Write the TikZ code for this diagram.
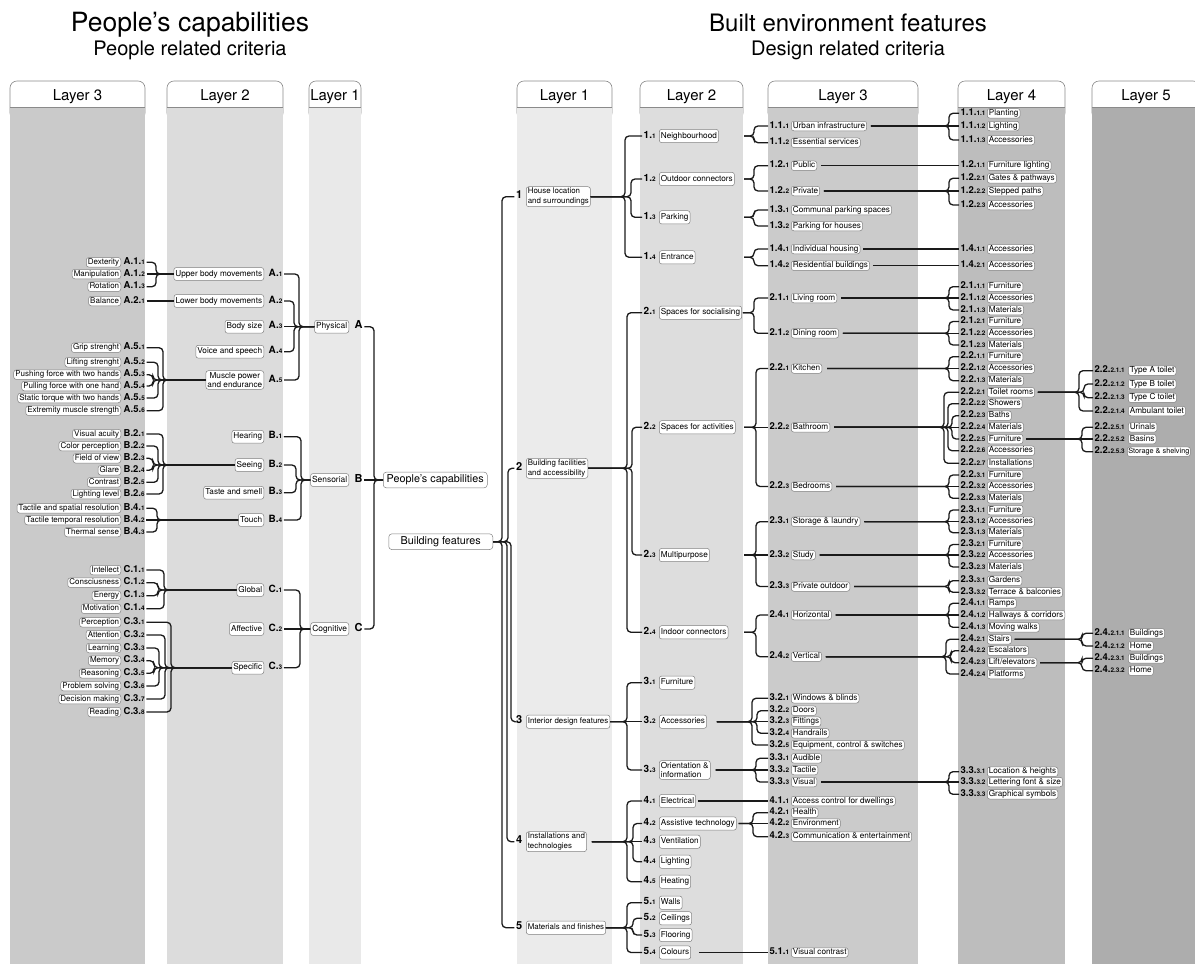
\documentclass[tikz,border=0pt]{standalone}
\usepackage{fontspec}
\setmainfont{TeX Gyre Heros}

\definecolor{linec}{HTML}{1A1A1A}
\definecolor{boxc}{HTML}{808080}
\definecolor{tabc}{HTML}{8A8A8A}
\definecolor{bandLa}{HTML}{CACACA}
\definecolor{bandLb}{HTML}{DCDCDC}
\definecolor{bandLc}{HTML}{E9E9E9}
\definecolor{bandRa}{HTML}{EBEBEB}
\definecolor{bandRb}{HTML}{DDDDDD}
\definecolor{bandRc}{HTML}{CBCBCB}
\definecolor{bandRd}{HTML}{BDBDBD}
\definecolor{bandRe}{HTML}{ADADAD}

% code label: big part, then small part
\newcommand\cod[2]{#1{\fontsize{6.4}{7}\selectfont#2}}
% left item: code right of its box / right item: code left of its box
\newcommand\lit[4]{%
  \node[codetag, anchor=west] (c#1) at (\colc,#2) {#3};
  \node[critbox, anchor=east] (#1) at (\colb,#2) {#4};}
\newcommand\rit[4]{%
  \node[codetag, anchor=west] (c#1) at (\colc,#2) {#3};
  \node[critbox, anchor=west] (#1) at (\colb,#2) {#4};}
% braces: children on the left / on the right
\newcommand\lbr[2]{\foreach \kid/\spx in {#2}
  {\draw[conn] (c\kid.east) -| (\spx,0 |- #1.west) -- (#1.west);}}
\newcommand\lst[2]{\draw[conn] (c#2.east) -- (#1.west);}
\newcommand\rbr[3]{\foreach \kid/\spx in {#3}
  {\draw[conn] (#2) -- (\spx,0 |- #1.east) |- (c\kid.west);}}
\newcommand\rst[3]{\draw[conn] (#2) -- (c#3.west);}
% column band with its tab
\newcommand\band[5]{%
  \draw[tabline, fill=white, rounded corners=7pt] (#1,81) rectangle (#2,120);
  \fill[#3] (#1,107) rectangle (#2,964);
  \draw[tabline] (#1,107) -- (#2,107);
  \node[tabtext, anchor=base] (#5) at ({(#1+#2)/2},100) {#4};}

\begin{document}
\begin{tikzpicture}[x=1pt, y=-1pt,
  conn/.style={draw=linec, line width=1.3pt, rounded corners=4pt},
  critbox/.style={draw=boxc, fill=white, line width=0.5pt, rounded corners=2.5pt,
    inner xsep=1.6pt, inner ysep=0.9pt, text height=6pt, text depth=1.7pt,
    font=\fontsize{8.2}{9}\selectfont},
  box2/.style={draw=boxc, fill=white, line width=0.5pt, rounded corners=2.5pt,
    inner xsep=1.6pt, inner ysep=1.5pt, align=left, font=\fontsize{7.9}{9.5}\selectfont},
  codetag/.style={inner xsep=1.5pt, inner ysep=0pt, text height=6pt, text depth=1.7pt,
    font=\bfseries\fontsize{9.5}{10}\selectfont},
  bigbox/.style={draw=boxc, fill=white, line width=0.5pt, rounded corners=3pt,
    minimum width=104pt, inner ysep=2.8pt, text height=7.8pt, text depth=2.2pt,
    font=\fontsize{10.8}{12}\selectfont},
  tabline/.style={draw=tabc, line width=0.6pt},
  tabtext/.style={font=\fontsize{15}{16}\selectfont},
  ttl/.style={anchor=base, font=\fontsize{25}{28}\selectfont},
  subttl/.style={anchor=base, font=\fontsize{20}{22}\selectfont}]
\useasboundingbox (0,0) rectangle (1195,964);
\clip (0,0) rectangle (1195,964);

% titles
\node[ttl, font=\fontsize{26.5}{28}\selectfont] (ttlP) at (190,31) {People’s capabilities};
\node[subttl] (subP) at (190,55) {People related criteria};
\node[ttl, font=\fontsize{24}{28}\selectfont] (ttlB) at (848,31) {Built environment features};
\node[subttl] (subB) at (848,55) {Design related criteria};

% columns
\band{10}{145}{bandLa}{Layer 3}{tabL3}
\band{167}{283}{bandLb}{Layer 2}{tabL2}
\band{309}{361}{bandLc}{Layer 1}{tabL1}
\band{517}{612}{bandRa}{Layer 1}{tabR1}
\band{640}{743}{bandRb}{Layer 2}{tabR2}
\band{768}{918}{bandRc}{Layer 3}{tabR3}
\band{958}{1065}{bandRd}{Layer 4}{tabR4}
\band{1092}{1200}{bandRe}{Layer 5}{tabR5}

% ---- people related criteria ----
\begin{scope}[critbox/.append style={font=\fontsize{8}{9}\selectfont}]
\def\colc{122}\def\colb{121}
\lit{a11}{262.3}{\cod{A.1.}{1}}{Dexterity}
\lit{a12}{274}{\cod{A.1.}{2}}{Manipulation}
\lit{a13}{286.7}{\cod{A.1.}{3}}{Rotation}
\lit{a21}{301}{\cod{A.2.}{1}}{Balance}
\lit{a51}{347.7}{\cod{A.5.}{1}}{Grip strenght}
\lit{a52}{362.3}{\cod{A.5.}{2}}{Lifting strenght}
\lit{a53}{374.7}{\cod{A.5.}{3}}{Pushing force with two hands}
\lit{a54}{386}{\cod{A.5.}{4}}{Pulling force with one hand}
\lit{a55}{398}{\cod{A.5.}{5}}{Static torque with two hands}
\lit{a56}{410.7}{\cod{A.5.}{6}}{Extremity muscle strength}
\lit{b21}{434}{\cod{B.2.}{1}}{Visual acuity}
\lit{b22}{446}{\cod{B.2.}{2}}{Color perception}
\lit{b23}{458.3}{\cod{B.2.}{3}}{Field of view}
\lit{b24}{470.3}{\cod{B.2.}{4}}{Glare}
\lit{b25}{482.3}{\cod{B.2.}{5}}{Contrast}
\lit{b26}{494}{\cod{B.2.}{6}}{Lighting level}
\lit{b41}{508.3}{\cod{B.4.}{1}}{Tactile and spatial resolution}
\lit{b42}{520}{\cod{B.4.}{2}}{Tactile temporal resolution}
\lit{b43}{532}{\cod{B.4.}{3}}{Thermal sense}
\lit{c11}{570}{\cod{C.1.}{1}}{Intellect}
\lit{c12}{582.7}{\cod{C.1.}{2}}{Consciusness}
\lit{c13}{595.7}{\cod{C.1.}{3}}{Energy}
\lit{c14}{608.7}{\cod{C.1.}{4}}{Motivation}
\lit{c31}{622.3}{\cod{C.3.}{1}}{Perception}
\lit{c32}{635}{\cod{C.3.}{2}}{Attention}
\lit{c33}{648}{\cod{C.3.}{3}}{Learning}
\lit{c34}{660.7}{\cod{C.3.}{4}}{Memory}
\lit{c35}{673.3}{\cod{C.3.}{5}}{Reasoning}
\lit{c36}{686}{\cod{C.3.}{6}}{Problem solving}
\lit{c37}{699}{\cod{C.3.}{7}}{Decision making}
\lit{c38}{712}{\cod{C.3.}{8}}{Reading}
\end{scope}

\begin{scope}[critbox/.append style={inner ysep=2.6pt},
  codetag/.append style={font=\bfseries\fontsize{10}{11}\selectfont}]
\def\colc{267}\def\colb{264}
\lit{a1}{274}{\cod{A.}{1}}{Upper body movements}
\lit{a2}{301}{\cod{A.}{2}}{Lower body movements}
\lit{a3}{326.7}{\cod{A.}{3}}{Body size}
\lit{a4}{351.7}{\cod{A.}{4}}{Voice and speech}
\node[codetag, anchor=west] (ca5) at (267,380) {\cod{A.}{5}};
\node[box2, anchor=east, align=center, font=\fontsize{8.2}{9.5}\selectfont] (a5) at (264,380) {Muscle power\\and endurance};
\lit{b1}{436.7}{\cod{B.}{1}}{Hearing}
\lit{b2}{465}{\cod{B.}{2}}{Seeing}
\lit{b3}{492.7}{\cod{B.}{3}}{Taste and smell}
\lit{b4}{520}{\cod{B.}{4}}{Touch}
\lit{c1}{590}{\cod{C.}{1}}{Global}
\lit{c2}{629}{\cod{C.}{2}}{Affective}
\lit{c3}{667.7}{\cod{C.}{3}}{Specific}
\end{scope}

\begin{scope}[critbox/.append style={inner ysep=2.6pt, font=\fontsize{8.4}{9}\selectfont},
  codetag/.append style={font=\bfseries\fontsize{11}{12}\selectfont}]
\def\colc{353}\def\colb{349}
\lit{a}{326.7}{A}{Physical}
\lit{b}{480}{B}{Sensorial}
\lit{c}{629}{C}{Cognitive}
\end{scope}

\node[bigbox, anchor=west] (people) at (383,480) {People’s capabilities};
\node[bigbox, anchor=east] (building) at (493,541.7) {Building features};

% ---- design related criteria ----
\begin{scope}[codetag/.append style={font=\bfseries\fontsize{11}{12}\selectfont}]
\node[codetag, anchor=east] (cn1) at (524,196.7) {1};
\node[box2, anchor=west] (n1) at (526,196.7) {House location\\and surroundings};
\node[codetag, anchor=east] (cn2) at (524,468.3) {2};
\node[box2, anchor=west] (n2) at (526,468.3) {Building facilities\\and accessibility};
\node[codetag, anchor=east] (cn3) at (524,721.7) {3};
\node[critbox, anchor=west, inner ysep=2.8pt, font=\fontsize{7.9}{9}\selectfont] (n3) at (526,721.7) {Interior design features};
\node[codetag, anchor=east] (cn4) at (524,841.7) {4};
\node[box2, anchor=west] (n4) at (526,841.7) {Installations and\\technologies};
\node[codetag, anchor=east] (cn5) at (524,927.7) {5};
\node[critbox, anchor=west, inner ysep=2.8pt, font=\fontsize{7.9}{9}\selectfont] (n5) at (526,927.7) {Materials and finishes};
\end{scope}

\begin{scope}[critbox/.append style={inner ysep=2.8pt},
  codetag/.append style={font=\bfseries\fontsize{10}{11}\selectfont}]
\def\colc{642}\def\colb{659}
\rit{n11}{136}{\cod{1.}{1}}{Neighbourhood}
\rit{n12}{179}{\cod{1.}{2}}{Outdoor connectors}
\rit{n13}{217.3}{\cod{1.}{3}}{Parking}
\rit{n14}{257.3}{\cod{1.}{4}}{Entrance}
\rit{n21}{312.7}{\cod{2.}{1}}{Spaces for socialising}
\rit{n22}{427.3}{\cod{2.}{2}}{Spaces for activities}
\rit{n23}{555}{\cod{2.}{3}}{Multipurpose}
\rit{n24}{632.3}{\cod{2.}{4}}{Indoor connectors}
\rit{n31}{682.7}{\cod{3.}{1}}{Furniture}
\rit{n32}{721.7}{\cod{3.}{2}}{Accessories}
\node[codetag, anchor=west] (cn33) at (642,770) {\cod{3.}{3}};
\node[box2, anchor=west, font=\fontsize{8.2}{9.5}\selectfont] (n33) at (659,770) {Orientation \&\\information};
\rit{n41}{801}{\cod{4.}{1}}{Electrical}
\rit{n42}{823.5}{\cod{4.}{2}}{Assistive technology}
\rit{n43}{841.7}{\cod{4.}{3}}{Ventilation}
\rit{n44}{861.7}{\cod{4.}{4}}{Lighting}
\rit{n45}{881.7}{\cod{4.}{5}}{Heating}
\rit{n51}{902.7}{\cod{5.}{1}}{Walls}
\rit{n52}{918.3}{\cod{5.}{2}}{Ceilings}
\rit{n53}{935}{\cod{5.}{3}}{Flooring}
\rit{n54}{952.5}{\cod{5.}{4}}{Colours}
\end{scope}

\begin{scope}
\def\colc{768}\def\colb{791}
\rit{n111}{126}{\cod{1.1.}{1}}{Urban infrastructure}
\rit{n112}{142.7}{\cod{1.1.}{2}}{Essential services}
\rit{n121}{165.7}{\cod{1.2.}{1}}{Public}
\rit{n122}{191}{\cod{1.2.}{2}}{Private}
\rit{n131}{210}{\cod{1.3.}{1}}{Communal parking spaces}
\rit{n132}{226}{\cod{1.3.}{2}}{Parking for houses}
\rit{n141}{249}{\cod{1.4.}{1}}{Individual housing}
\rit{n142}{265.7}{\cod{1.4.}{2}}{Residential buildings}
\rit{n211}{298}{\cod{2.1.}{1}}{Living room}
\rit{n212}{333.3}{\cod{2.1.}{2}}{Dining room}
\rit{n221}{368.5}{\cod{2.2.}{1}}{Kitchen}
\rit{n222}{427.3}{\cod{2.2.}{2}}{Bathroom}
\rit{n223}{486.5}{\cod{2.2.}{3}}{Bedrooms}
\rit{n231}{521.7}{\cod{2.3.}{1}}{Storage \& laundry}
\rit{n232}{555}{\cod{2.3.}{2}}{Study}
\rit{n233}{586.5}{\cod{2.3.}{3}}{Private outdoor}
\rit{n241}{615}{\cod{2.4.}{1}}{Horizontal}
\rit{n242}{656.7}{\cod{2.4.}{2}}{Vertical}
\rit{n321}{698.3}{\cod{3.2.}{1}}{Windows \& blinds}
\rit{n322}{710.7}{\cod{3.2.}{2}}{Doors}
\rit{n323}{721.7}{\cod{3.2.}{3}}{Fittings}
\rit{n324}{733.3}{\cod{3.2.}{4}}{Handrails}
\rit{n325}{745}{\cod{3.2.}{5}}{Equipment, control \& switches}
\rit{n331}{758.3}{\cod{3.3.}{1}}{Audible}
\rit{n332}{770}{\cod{3.3.}{2}}{Tactile}
\rit{n333}{782}{\cod{3.3.}{3}}{Visual}
\rit{n411}{801}{\cod{4.1.}{1}}{Access control for dwellings}
\rit{n421}{812.7}{\cod{4.2.}{1}}{Health}
\rit{n422}{823.5}{\cod{4.2.}{2}}{Environment}
\rit{n423}{836.7}{\cod{4.2.}{3}}{Communication \& entertainment}
\rit{n541}{952.5}{\cod{5.1.}{1}}{Visual contrast}
\end{scope}

\begin{scope}
\def\colc{959}\def\colb{987}
\rit{n1111}{113.3}{\cod{1.1.}{1.1}}{Planting}
\rit{n1112}{126}{\cod{1.1.}{1.2}}{Lighting}
\rit{n1113}{140}{\cod{1.1.}{1.3}}{Accessories}
\rit{n1211}{165.7}{\cod{1.2.}{1.1}}{Furniture lighting}
\rit{n1221}{178.3}{\cod{1.2.}{2.1}}{Gates \& pathways}
\rit{n1222}{191}{\cod{1.2.}{2.2}}{Stepped paths}
\rit{n1223}{205}{\cod{1.2.}{2.3}}{Accessories}
\rit{n1411}{249}{\cod{1.4.}{1.1}}{Accessories}
\rit{n1421}{265.7}{\cod{1.4.}{2.1}}{Accessories}
\rit{n2111}{286.7}{\cod{2.1.}{1.1}}{Furniture}
\rit{n2112}{298}{\cod{2.1.}{1.2}}{Accessories}
\rit{n2113}{310}{\cod{2.1.}{1.3}}{Materials}
\rit{n2121}{321.5}{\cod{2.1.}{2.1}}{Furniture}
\rit{n2122}{333.3}{\cod{2.1.}{2.2}}{Accessories}
\rit{n2123}{345}{\cod{2.1.}{2.3}}{Materials}
\rit{n2211}{356.7}{\cod{2.2.}{1.1}}{Furniture}
\rit{n2212}{368.5}{\cod{2.2.}{1.2}}{Accessories}
\rit{n2213}{380.7}{\cod{2.2.}{1.3}}{Materials}
\rit{n2221}{392.3}{\cod{2.2.}{2.1}}{Toilet rooms}
\rit{n2222}{403.7}{\cod{2.2.}{2.2}}{Showers}
\rit{n2223}{415.7}{\cod{2.2.}{2.3}}{Baths}
\rit{n2224}{427.3}{\cod{2.2.}{2.4}}{Materials}
\rit{n2225}{439}{\cod{2.2.}{2.5}}{Furniture}
\rit{n2226}{450.7}{\cod{2.2.}{2.6}}{Accessories}
\rit{n2227}{463.3}{\cod{2.2.}{2.7}}{Installations}
\rit{n2231}{475}{\cod{2.2.}{3.1}}{Furniture}
\rit{n2232}{486.5}{\cod{2.2.}{3.2}}{Accessories}
\rit{n2233}{498.3}{\cod{2.2.}{3.3}}{Materials}
\rit{n2311}{510}{\cod{2.3.}{1.1}}{Furniture}
\rit{n2312}{521.7}{\cod{2.3.}{1.2}}{Accessories}
\rit{n2313}{532.7}{\cod{2.3.}{1.3}}{Materials}
\rit{n2321}{544.5}{\cod{2.3.}{2.1}}{Furniture}
\rit{n2322}{555}{\cod{2.3.}{2.2}}{Accessories}
\rit{n2323}{567}{\cod{2.3.}{2.3}}{Materials}
\rit{n2331}{580.7}{\cod{2.3.}{3.1}}{Gardens}
\rit{n2332}{592.3}{\cod{2.3.}{3.2}}{Terrace \& balconies}
\rit{n2411}{603.3}{\cod{2.4.}{1.1}}{Ramps}
\rit{n2412}{615}{\cod{2.4.}{1.2}}{Hallways \& corridors}
\rit{n2413}{627.3}{\cod{2.4.}{1.3}}{Moving walks}
\rit{n2421}{639.3}{\cod{2.4.}{2.1}}{Stairs}
\rit{n2422}{650.7}{\cod{2.4.}{2.2}}{Escalators}
\rit{n2423}{662.7}{\cod{2.4.}{2.3}}{Lift/elevators}
\rit{n2424}{674}{\cod{2.4.}{2.4}}{Platforms}
\rit{n3331}{771.7}{\cod{3.3.}{3.1}}{Location \& heights}
\rit{n3332}{782}{\cod{3.3.}{3.2}}{Lettering font \& size}
\rit{n3333}{794.3}{\cod{3.3.}{3.3}}{Graphical symbols}
\end{scope}

\begin{scope}
\def\colc{1093}\def\colb{1128}
\rit{n22211}{370.7}{\cod{2.2.}{2.1.1}}{Type A toilet}
\rit{n22212}{384}{\cod{2.2.}{2.1.2}}{Type B toilet}
\rit{n22213}{397.7}{\cod{2.2.}{2.1.3}}{Type C toilet}
\rit{n22214}{411}{\cod{2.2.}{2.1.4}}{Ambulant toilet}
\rit{n22251}{427.3}{\cod{2.2.}{2.5.1}}{Urinals}
\rit{n22252}{439}{\cod{2.2.}{2.5.2}}{Basins}
\node[codetag, anchor=west] (cn22253) at (1093,451.7) {\cod{2.2.}{2.5.3}};
\node[critbox, anchor=west, inner xsep=1pt, font=\fontsize{7.3}{9}\selectfont] (n22253) at (1127,451.7) {Storage \& shelving};
\rit{n24211}{633.3}{\cod{2.4.}{2.1.1}}{Buildings}
\rit{n24212}{646}{\cod{2.4.}{2.1.2}}{Home}
\rit{n24231}{658.3}{\cod{2.4.}{2.3.1}}{Buildings}
\rit{n24232}{670.7}{\cod{2.4.}{2.3.2}}{Home}
\end{scope}

% ---- braces, left side ----
\lbr{a1}{a11/156, a13/156} \lst{a1}{a12}
\lst{a2}{a21}
\lbr{a5}{a51/163, a52/158, a53/153, a54/153, a55/158, a56/163}
\lbr{b2}{b21/163, b22/158, b23/153, b24/153, b25/158, b26/163}
\lbr{b4}{b41/157, b43/157} \lst{b4}{b42}
\lbr{c1}{c11/164, c12/158, c13/158, c14/164}
\lbr{c3}{c31/171, c32/165, c33/159, c34/154, c35/154, c36/159, c37/165, c38/171}
\lbr{a}{a1/299, a2/294, a4/294, a5/299} \lst{a}{a3}
\lbr{b}{b1/301, b2/296, b3/296, b4/301}
\lbr{c}{c1/300, c3/300} \lst{c}{c2}
\lbr{people}{a/374, c/374} \lst{people}{b}

% ---- braces, right side ----
\rbr{building}{building.east}{n1/502, n2/508, n3/511, n4/507, n5/502}
\rbr{n1}{n1.east}{n11/625, n12/631, n13/631, n14/625}
\rbr{n2}{n2.east}{n21/627, n22/632, n23/632, n24/627}
\rbr{n3}{n3.east}{n31/627, n33/627} \rst{n3}{n3.east}{n32}
\rbr{n4}{[xshift=5pt]n4.east}{n41/627, n42/633, n44/633, n45/627} \rst{n4}{[xshift=5pt]n4.east}{n43}
\rbr{n5}{n5.east}{n51/627, n52/633, n53/633, n54/627}

\rbr{n11}{744,0 |- n11.east}{n111/754, n112/754}
\rbr{n12}{744,0 |- n12.east}{n121/754, n122/754}
\rbr{n13}{744,0 |- n13.east}{n131/754, n132/754}
\rbr{n14}{744,0 |- n14.east}{n141/754, n142/754}
\rbr{n21}{[xshift=1pt]n21.east}{n211/754, n212/754}
\rbr{n22}{744,0 |- n22.east}{n221/756, n223/756} \rst{n22}{744,0 |- n22.east}{n222}
\rbr{n23}{744,0 |- n23.east}{n231/756, n233/756} \rst{n23}{744,0 |- n23.east}{n232}
\rbr{n24}{744,0 |- n24.east}{n241/756, n242/756}
\rbr{n32}{[xshift=10pt]n32.east}{n321/752, n322/757, n324/757, n325/752} \rst{n32}{[xshift=10pt]n32.east}{n323}
\rbr{n33}{[xshift=5pt]n33.east}{n331/756, n333/756} \rst{n33}{[xshift=5pt]n33.east}{n332}
\rst{n41}{[xshift=2pt]n41.east}{n411}
\rbr{n42}{[xshift=2pt]n42.east}{n421/753, n423/753} \rst{n42}{[xshift=2pt]n42.east}{n422}
\rst{n54}{[xshift=8pt]n54.east}{n541}

\rbr{n111}{[xshift=4pt]n111.east}{n1111/949, n1113/949} \rst{n111}{[xshift=4pt]n111.east}{n1112}
\rst{n121}{[xshift=4pt]n121.east}{n1211}
\rbr{n122}{[xshift=4pt]n122.east}{n1221/949, n1223/949} \rst{n122}{[xshift=4pt]n122.east}{n1222}
\rst{n141}{[xshift=3pt]n141.east}{n1411}
\rst{n142}{[xshift=3pt]n142.east}{n1421}
\rbr{n211}{[xshift=4pt]n211.east}{n2111/949, n2113/949} \rst{n211}{[xshift=4pt]n211.east}{n2112}
\rbr{n212}{[xshift=4pt]n212.east}{n2121/949, n2123/949} \rst{n212}{[xshift=4pt]n212.east}{n2122}
\rbr{n221}{[xshift=5pt]n221.east}{n2211/949, n2213/949} \rst{n221}{[xshift=5pt]n221.east}{n2212}
\rbr{n222}{[xshift=4pt]n222.east}{n2221/944, n2222/948, n2223/952, n2225/952, n2226/948, n2227/944}
\rst{n222}{[xshift=4pt]n222.east}{n2224}
\rbr{n223}{[xshift=4pt]n223.east}{n2231/949, n2233/949} \rst{n223}{[xshift=4pt]n223.east}{n2232}
\rbr{n231}{[xshift=4pt]n231.east}{n2311/949, n2313/949} \rst{n231}{[xshift=4pt]n231.east}{n2312}
\rbr{n232}{[xshift=4pt]n232.east}{n2321/949, n2323/949} \rst{n232}{[xshift=4pt]n232.east}{n2322}
\rbr{n233}{[xshift=4pt]n233.east}{n2331/949, n2332/949}
\rbr{n241}{[xshift=4pt]n241.east}{n2411/949, n2413/949} \rst{n241}{[xshift=4pt]n241.east}{n2412}
\rbr{n242}{[xshift=4pt]n242.east}{n2421/946, n2422/951, n2423/951, n2424/946}
\rbr{n333}{[xshift=4pt]n333.east}{n3331/949, n3333/949} \rst{n333}{[xshift=4pt]n333.east}{n3332}

\rbr{n2221}{[xshift=3pt]n2221.east}{n22211/1079, n22212/1084, n22213/1084, n22214/1079}
\rbr{n2225}{[xshift=3pt]n2225.east}{n22251/1082, n22253/1082} \rst{n2225}{[xshift=3pt]n2225.east}{n22252}
\rbr{n2421}{[xshift=3pt]n2421.east}{n24211/1082, n24212/1082}
\rbr{n2423}{[xshift=3pt]n2423.east}{n24231/1082, n24232/1082}
\end{tikzpicture}
\end{document}
